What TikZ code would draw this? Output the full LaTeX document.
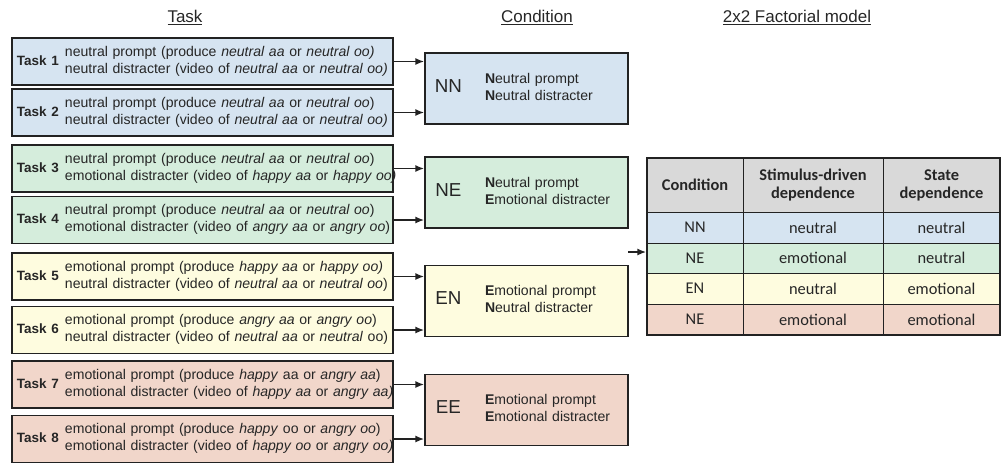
\documentclass[tikz,border=0pt]{standalone}
\usepackage{fontspec}
\setmainfont{Liberation Sans}
\newfontfamily\calibrifont{Carlito}
\usetikzlibrary{arrows.meta}
\definecolor{nnblue}{HTML}{D6E4F1}
\definecolor{negreen}{HTML}{D5EDDC}
\definecolor{enyellow}{HTML}{FEFCDF}
\definecolor{eepink}{HTML}{F1D6CA}
\definecolor{hdrgray}{HTML}{D9D9D9}
\definecolor{ink}{HTML}{222222}
\def\tasklabel#1{\makebox[1.44cm][l]{\bfseries\fontsize{11.5}{14}\selectfont Task #1}}
\def\condlabel#1{\makebox[0.8cm][c]{\fontsize{16}{18}\selectfont #1}\hspace{0.7cm}}
\tikzset{
  taskbox/.style={draw=ink, line width=1.5pt, text=black!85, minimum height=1.41cm,
    text width=11.13cm, inner xsep=0.15cm, align=left, font=\fontsize{12}{14.4}\selectfont},
  condbox/.style={draw=ink, line width=1.5pt, text=black!85, minimum height=2.13cm,
    text width=5.49cm, inner xsep=0.3cm, align=left, font=\fontsize{12}{14.4}\selectfont},
  headtxt/.style={text=black!85, font=\fontsize{14.5}{17}\selectfont},
  cell/.style={text=black!85, align=center, font=\calibrifont\fontsize{14}{15.5}\selectfont},
  feed/.style={-{Latex[length=2.6mm,width=2.1mm]}, line width=1.3pt, draw=ink}
}
\begin{document}
\begin{tikzpicture}[x=0.03cm,y=-0.03cm]
\useasboundingbox (0,0) rectangle (1005,466);
% column titles
\node (hTask) at (185,18) [headtxt] {\underline{Task}};
\node (hCond) at (537,18) [headtxt] {\underline{Condition}};
\node (hModel) at (797,18) [headtxt] {\underline{2x2 Factorial model}};
% tasks
\node (t1) at (202.5,61.5) [taskbox, fill=nnblue] {\tasklabel{1}\begin{tabular}{@{}l@{}}neutral prompt (produce \textit{neutral aa} or \textit{neutral oo)}\\neutral distracter (video of \textit{neutral aa} or \textit{neutral oo)}\end{tabular}};
\node (t2) at (202.5,112.5) [taskbox, fill=nnblue] {\tasklabel{2}\begin{tabular}{@{}l@{}}neutral prompt (produce \textit{neutral aa} or \textit{neutral oo})\\neutral distracter (video of \textit{neutral aa} or \textit{neutral oo)}\end{tabular}};
\node (t3) at (202.5,168.5) [taskbox, fill=negreen] {\tasklabel{3}\begin{tabular}{@{}l@{}}neutral prompt (produce \textit{neutral aa} or \textit{neutral oo})\\emotional distracter (video of \textit{happy aa} or \textit{happy oo)}\end{tabular}};
\node (t4) at (202.5,220) [taskbox, fill=negreen] {\tasklabel{4}\begin{tabular}{@{}l@{}}neutral prompt (produce \textit{neutral aa} or \textit{neutral oo})\\emotional distracter (video of \textit{angry aa} or \textit{angry oo})\end{tabular}};
\node (t5) at (202.5,276.5) [taskbox, fill=enyellow] {\tasklabel{5}\begin{tabular}{@{}l@{}}emotional prompt (produce \textit{happy aa} or \textit{happy oo)}\\neutral distracter (video of \textit{neutral aa} or \textit{neutral oo})\end{tabular}};
\node (t6) at (202.5,330) [taskbox, fill=enyellow] {\tasklabel{6}\begin{tabular}{@{}l@{}}emotional prompt (produce \textit{angry aa} or \textit{angry oo})\\neutral distracter (video of \textit{neutral aa} or \textit{neutral} oo)\end{tabular}};
\node (t7) at (202.5,384.5) [taskbox, fill=eepink] {\tasklabel{7}\begin{tabular}{@{}l@{}}emotional prompt (produce \textit{happy} aa or \textit{angry aa})\\emotional distracter (video of \textit{happy aa} or \textit{angry aa)}\end{tabular}};
\node (t8) at (202.5,439) [taskbox, fill=eepink] {\tasklabel{8}\begin{tabular}{@{}l@{}}emotional prompt (produce \textit{happy} oo or \textit{angry oo})\\emotional distracter (video of \textit{happy oo} or \textit{angry oo)}\end{tabular}};
% conditions
\node (cNN) at (526.5,88.5) [condbox, fill=nnblue] {\condlabel{NN}\begin{tabular}{@{}l@{}}\textbf{N}eutral prompt\\\textbf{N}eutral distracter\end{tabular}};
\node (cNE) at (526.5,192.5) [condbox, fill=negreen] {\condlabel{NE}\begin{tabular}{@{}l@{}}\textbf{N}eutral prompt\\\textbf{E}motional distracter\end{tabular}};
\node (cEN) at (526.5,301) [condbox, fill=enyellow] {\condlabel{EN}\begin{tabular}{@{}l@{}}\textbf{E}motional prompt\\\textbf{N}eutral distracter\end{tabular}};
\node (cEE) at (526.5,410) [condbox, fill=eepink] {\condlabel{EE}\begin{tabular}{@{}l@{}}\textbf{E}motional prompt\\\textbf{E}motional distracter\end{tabular}};
\draw[feed] (t1.east) -- (t1.east -| cNN.west);
\draw[feed] (t2.east) -- (t2.east -| cNN.west);
\draw[feed] (t3.east) -- (t3.east -| cNE.west);
\draw[feed] (t4.east) -- (t4.east -| cNE.west);
\draw[feed] (t5.east) -- (t5.east -| cEN.west);
\draw[feed] (t6.east) -- (t6.east -| cEN.west);
\draw[feed] (t7.east) -- (t7.east -| cEE.west);
\draw[feed] (t8.east) -- (t8.east -| cEE.west);
% factorial table
\fill[hdrgray] (647,158) rectangle (1000,212);
\fill[nnblue] (647,212) rectangle (1000,243);
\fill[negreen] (647,243) rectangle (1000,273);
\fill[enyellow] (647,273) rectangle (1000,304);
\fill[eepink] (647,304) rectangle (1000,335);
\draw[ink, line width=0.6pt] (743,158) -- (743,335) (883,158) -- (883,335);
\draw[ink, line width=0.6pt] (647,212) -- (1000,212) (647,243) -- (1000,243)
  (647,273) -- (1000,273) (647,304) -- (1000,304);
\node (tab) at (823.5,246.5) [draw=ink, line width=1.5pt, minimum width=10.59cm, minimum height=5.31cm] {};
\node (hc1) at (695,185) [cell] {\textbf{Condition}};
\node (hc2) at (813,185) [cell] {\textbf{Stimulus-driven}\\\textbf{dependence}};
\node (hc3) at (941.5,185) [cell] {\textbf{State}\\\textbf{dependence}};
\foreach \y/\c/\a/\b [count=\i] in {227.5/NN/neutral/neutral, 258/NE/emotional/neutral,
    288.5/EN/neutral/emotional, 319.5/NE/emotional/emotional}
{
  \node (r\i c) at (695,\y) [cell] {\c};
  \node (r\i s) at (813,\y) [cell] {\a};
  \node (r\i d) at (941.5,\y) [cell] {\b};
}
\coordinate (tabin) at (628,252);
\draw[feed] (tabin) -- (tabin -| tab.west);
\end{tikzpicture}
\end{document}
